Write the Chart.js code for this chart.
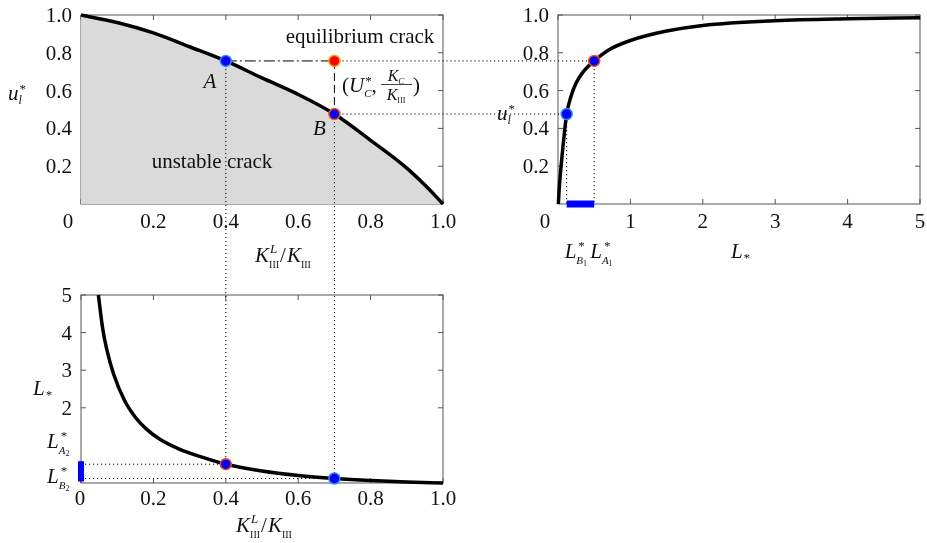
<!DOCTYPE html>
<html>
<head>
<meta charset="utf-8">
<script src="https://cdn.jsdelivr.net/npm/chart.js@4.4.1/dist/chart.umd.min.js"></script>
<style>
  body { margin: 0; background: #fff; width: 927px; height: 543px; position: relative; overflow: hidden; }
  canvas { position: absolute; }
</style>
</head>
<body>
<canvas id="panel1" width="490" height="280" style="left:0;top:0;width:490px;height:280px"></canvas>
<canvas id="panel2" width="437" height="290" style="left:490px;top:0;width:437px;height:290px"></canvas>
<canvas id="panel3" width="490" height="263" style="left:0;top:280px;width:490px;height:263px"></canvas>
<script>
// panel 1: u*_l frente a K^L_III / K_III
const kRatio1 = [0, 0.1, 0.2, 0.3, 0.4, 0.5, 0.6, 0.7, 0.8, 0.9, 0.95, 1.0];
const uStar1 = [1.0, 0.96, 0.905, 0.832, 0.757, 0.667, 0.58, 0.476, 0.337, 0.19, 0.1, 0];

// panel 2: u*_l frente a L_*
const lStar2 = [0.005, 0.02, 0.04, 0.07, 0.12, 0.18, 0.25, 0.35, 0.5, 0.7, 1.0, 1.5, 2.0, 3.0, 4.0, 5.0];
const uStar2 = [0, 0.1, 0.19, 0.31, 0.476, 0.57, 0.64, 0.7, 0.757, 0.815, 0.865, 0.915, 0.945, 0.97, 0.98, 0.985];

// panel 3: L_* frente a K^L_III / K_III
const kRatio3 = [0.048, 0.06, 0.07, 0.09, 0.12, 0.15, 0.18, 0.22, 0.27, 0.33, 0.4, 0.5, 0.6, 0.7, 0.8, 0.9, 1.0];
const lStar3 = [5.0, 4.1, 3.6, 2.9, 2.2, 1.75, 1.44, 1.15, 0.91, 0.7, 0.5, 0.32, 0.2, 0.12, 0.065, 0.028, 0];

// puntos A y B
const kA = 0.4, kB = 0.7;
const uA = 0.757, uB = 0.476;
const lA = 0.5, lB = 0.12;

// marcas de los ejes
const ticksX1 = [0, 0.2, 0.4, 0.6, 0.8, 1.0];
const etiquetasX1 = ["0", "0.2", "0.4", "0.6", "0.8", "1.0"];
const ticksY1 = [0.2, 0.4, 0.6, 0.8, 1.0];
const etiquetasY1 = ["0.2", "0.4", "0.6", "0.8", "1.0"];
const ticksX2 = [0, 1, 2, 3, 4, 5];
const etiquetasX2 = ["0", "1", "2", "3", "4", "5"];
const ticksY3 = [2, 3, 4, 5];
const etiquetasY3 = ["2", "3", "4", "5"];

const FUENTE = '"Liberation Serif", "Times New Roman", serif';
const AZUL = "#0000ff";
const T = 21; // tamaño base del texto

function puntos(xs, ys) {
  return xs.map((x, i) => ({ x: x, y: ys[i] }));
}

// texto con subindices / superindices; baseline en y
function texto(ctx, partes, x, y, alinear) {
  const pos = [];
  let cursor = 0, inicio = 0;
  for (const p of partes) {
    ctx.font = (p.it ? "italic " : "") + p.s + "px " + FUENTE;
    const w = ctx.measureText(p.t).width;
    if (p.apilar) {
      pos.push(inicio);
      cursor = Math.max(cursor, inicio + w);
    } else {
      pos.push(cursor);
      inicio = cursor;
      cursor += w;
    }
  }
  let x0 = x;
  if (alinear === "center") x0 = x - cursor / 2;
  if (alinear === "right") x0 = x - cursor;
  ctx.save();
  ctx.fillStyle = "#111";
  ctx.textAlign = "left";
  ctx.textBaseline = "alphabetic";
  partes.forEach((p, i) => {
    ctx.font = (p.it ? "italic " : "") + p.s + "px " + FUENTE;
    ctx.fillText(p.t, x0 + pos[i] + (p.dx || 0), y + (p.dy || 0));
  });
  ctx.restore();
}

function linea(ctx, x1, y1, x2, y2, dash) {
  ctx.save();
  ctx.setLineDash(dash);
  ctx.lineWidth = 1;
  ctx.strokeStyle = "#000";
  ctx.beginPath();
  ctx.moveTo(x1, y1);
  ctx.lineTo(x2, y2);
  ctx.stroke();
  ctx.restore();
}

const PUNTEADO = [1.2, 2.8];

function marco(chart, tx, ty) {
  const { ctx, chartArea: a, scales } = chart;
  ctx.save();
  ctx.strokeStyle = "#555";
  ctx.lineWidth = 1;
  ctx.strokeRect(a.left, a.top, a.right - a.left, a.bottom - a.top);
  ctx.beginPath();
  tx.forEach((v) => {
    const px = scales.x.getPixelForValue(v);
    ctx.moveTo(px, a.bottom); ctx.lineTo(px, a.bottom - 5);
    ctx.moveTo(px, a.top); ctx.lineTo(px, a.top + 5);
  });
  ty.forEach((v) => {
    const py = scales.y.getPixelForValue(v);
    ctx.moveTo(a.left, py); ctx.lineTo(a.left + 5, py);
    ctx.moveTo(a.right, py); ctx.lineTo(a.right - 5, py);
  });
  ctx.stroke();
  ctx.restore();
}

function etiquetas(chart, tx, lx, ty, ly, bajoX, corrimientoCero) {
  const { ctx, chartArea: a, scales } = chart;
  tx.forEach((v, i) => {
    const px = scales.x.getPixelForValue(v) - (v === 0 ? corrimientoCero : 0);
    texto(ctx, [{ t: lx[i], s: T }], px, a.bottom + bajoX, "center");
  });
  ty.forEach((v, i) => {
    const py = scales.y.getPixelForValue(v);
    texto(ctx, [{ t: ly[i], s: T }], a.left - 9, py + 7, "right");
  });
}

function tituloK(ctx, x, y) {
  texto(ctx, [
    { t: "K", s: T, it: true },
    { t: "L", s: 13, it: true, dy: -9, dx: 1 },
    { t: "III", s: 10, dy: 6, apilar: true },
    { t: "/", s: T, dx: 1 },
    { t: "K", s: T, it: true, dx: 2 },
    { t: "III", s: 10, dy: 6, dx: 2 }
  ], x, y, "center");
}

function opciones(padding, xMin, xMax, yMin, yMax) {
  return {
    responsive: false,
    animation: false,
    layout: { padding: padding },
    scales: {
      x: { type: "linear", min: xMin, max: xMax, display: false },
      y: { type: "linear", min: yMin, max: yMax, display: false }
    },
    plugins: { legend: { display: false }, tooltip: { enabled: false } }
  };
}

// ---------- panel 1 ----------
new Chart(document.getElementById("panel1"), {
  type: "scatter",
  data: {
    datasets: [
      {
        data: [{ x: kA, y: uA }, { x: kB, y: uA }, { x: kB, y: uB }],
        pointRadius: 5.5,
        pointBackgroundColor: [AZUL, "#ff0000", AZUL],
        pointBorderColor: ["#2a8cff", "#ff9a00", "#ff4a00"],
        pointBorderWidth: 1.5,
        clip: false
      },
      {
        data: puntos(kRatio1, uStar1),
        showLine: true,
        borderColor: "#000",
        borderWidth: 3.5,
        pointRadius: 0,
        cubicInterpolationMode: "monotone",
        fill: "origin",
        backgroundColor: "#dadada",
        clip: false
      }
    ]
  },
  options: opciones({ left: 81, top: 15, right: 47, bottom: 76 }, 0, 1, 0, 1),
  plugins: [{
    id: "panel1",
    beforeDatasetsDraw(chart) {
      marco(chart, ticksX1, ticksY1);
    },
    afterDatasetDraw(chart, args) {
      if (args.index !== 1) return;
      const { ctx, scales: { x, y } } = chart;
      const xa = x.getPixelForValue(kA), xb = x.getPixelForValue(kB);
      const ya = y.getPixelForValue(uA), yb = y.getPixelForValue(uB);
      linea(ctx, xa, ya, xb, ya, [11, 3, 2, 3]);
      linea(ctx, xb, ya, xb, yb, [8, 4]);
      linea(ctx, xb, ya, chart.width, ya, PUNTEADO);
      linea(ctx, xb, yb, chart.width, yb, PUNTEADO);
      linea(ctx, xa, ya, xa, chart.height, PUNTEADO);
      linea(ctx, xb, yb, xb, chart.height, PUNTEADO);
    },
    afterDraw(chart) {
      const { ctx, scales: { x } } = chart;
      etiquetas(chart, ticksX1, etiquetasX1, ticksY1, etiquetasY1, 24, 13);
      texto(ctx, [{ t: "equilibrium crack", s: T }], 360, 43, "center");
      texto(ctx, [{ t: "unstable crack", s: T }], 212, 168, "center");
      texto(ctx, [{ t: "A", s: T, it: true }], x.getPixelForValue(kA) - 16, 88, "center");
      texto(ctx, [{ t: "B", s: T, it: true }], x.getPixelForValue(kB) - 15, 135, "center");
      texto(ctx, [
        { t: "u", s: T, it: true },
        { t: "*", s: 13, dy: -7, dx: 1 },
        { t: "l", s: 12, it: true, dy: 4, apilar: true }
      ], 8, 100, "left");
      tituloK(ctx, 282, 262);
      // (U*_C, K_C / K_III)
      texto(ctx, [
        { t: "(", s: T },
        { t: "U", s: T, it: true },
        { t: "*", s: 13, dy: -7, dx: 1 },
        { t: "C", s: 11, it: true, dy: 5, apilar: true },
        { t: ",", s: T }
      ], 342, 92, "left");
      texto(ctx, [{ t: "K", s: 16, it: true }, { t: "C", s: 9, it: true, dy: 3 }], 396, 81, "center");
      texto(ctx, [{ t: "K", s: 16, it: true }, { t: "III", s: 8, dy: 3 }], 396, 100, "center");
      ctx.save();
      ctx.strokeStyle = "#111";
      ctx.lineWidth = 0.8;
      ctx.beginPath();
      ctx.moveTo(381, 84.5);
      ctx.lineTo(412, 84.5);
      ctx.stroke();
      ctx.restore();
      texto(ctx, [{ t: ")", s: T }], 413, 92, "left");
    }
  }]
});

// ---------- panel 2 ----------
new Chart(document.getElementById("panel2"), {
  type: "scatter",
  data: {
    datasets: [
      {
        data: [{ x: lA, y: uA }, { x: lB, y: uB }],
        pointRadius: 5.5,
        pointBackgroundColor: [AZUL, AZUL],
        pointBorderColor: ["#ff4a00", "#2a8cff"],
        pointBorderWidth: 1.5,
        clip: false
      },
      {
        data: [{ x: lB, y: 0 }, { x: lA, y: 0 }],
        showLine: true,
        borderColor: AZUL,
        borderWidth: 7,
        borderCapStyle: "butt",
        pointRadius: 0,
        clip: false
      },
      {
        data: puntos(lStar2, uStar2),
        showLine: true,
        borderColor: "#000",
        borderWidth: 3.5,
        pointRadius: 0,
        cubicInterpolationMode: "monotone",
        clip: false
      }
    ]
  },
  options: opciones({ left: 68, top: 15, right: 7, bottom: 86 }, 0, 5, 0, 1),
  plugins: [{
    id: "panel2",
    beforeDatasetsDraw(chart) {
      marco(chart, ticksX2, ticksY1);
      const { ctx, scales: { x, y } } = chart;
      const xa = x.getPixelForValue(lA), xb = x.getPixelForValue(lB);
      const ya = y.getPixelForValue(uA), yb = y.getPixelForValue(uB);
      const y0 = y.getPixelForValue(0);
      linea(ctx, 0, ya, xa, ya, PUNTEADO);
      linea(ctx, 0, yb, xb, yb, PUNTEADO);
      linea(ctx, xa, ya, xa, y0, PUNTEADO);
      linea(ctx, xb, yb, xb, y0, PUNTEADO);
    },
    afterDraw(chart) {
      const { ctx, scales: { x } } = chart;
      etiquetas(chart, ticksX2, etiquetasX2, ticksY1, etiquetasY1, 24, 13);
      texto(ctx, [
        { t: "u", s: T, it: true },
        { t: "*", s: 13, dy: -7, dx: 1 },
        { t: "l", s: 12, it: true, dy: 4, apilar: true }
      ], 7, 120, "left");
      texto(ctx, [{ t: "L", s: T, it: true }, { t: "*", s: 13, dy: 4, dx: 1 }], 250, 258, "center");
      const xb = x.getPixelForValue(lB), xa = x.getPixelForValue(lA);
      texto(ctx, [
        { t: "L", s: T, it: true },
        { t: "*", s: 13, dy: -8, dx: 2 },
        { t: "B", s: 11, it: true, dy: 6, apilar: true },
        { t: "1", s: 8, dy: 8 }
      ], xb - 2, 258, "left");
      texto(ctx, [
        { t: "L", s: T, it: true },
        { t: "*", s: 13, dy: -8, dx: 2 },
        { t: "A", s: 11, it: true, dy: 6, apilar: true },
        { t: "1", s: 8, dy: 8 }
      ], xa - 4, 258, "left");
    }
  }]
});

// ---------- panel 3 ----------
new Chart(document.getElementById("panel3"), {
  type: "scatter",
  data: {
    datasets: [
      {
        data: [{ x: kA, y: lA }, { x: kB, y: lB }],
        pointRadius: 5.5,
        pointBackgroundColor: [AZUL, AZUL],
        pointBorderColor: ["#ff4a00", "#2a8cff"],
        pointBorderWidth: 1.5,
        clip: false
      },
      {
        data: [{ x: 0, y: lB }, { x: 0, y: lA }],
        showLine: true,
        borderColor: AZUL,
        borderWidth: 6,
        borderCapStyle: "square",
        pointRadius: 0,
        clip: false
      },
      {
        data: puntos(kRatio3, lStar3),
        showLine: true,
        borderColor: "#000",
        borderWidth: 3.5,
        pointRadius: 0,
        cubicInterpolationMode: "monotone",
        clip: false
      }
    ]
  },
  options: opciones({ left: 81, top: 15, right: 47, bottom: 60 }, 0, 1, 0, 5),
  plugins: [{
    id: "panel3",
    beforeDatasetsDraw(chart) {
      marco(chart, ticksX1, ticksY3);
      const { ctx, scales: { x, y } } = chart;
      const xa = x.getPixelForValue(kA), xb = x.getPixelForValue(kB);
      const ya = y.getPixelForValue(lA), yb = y.getPixelForValue(lB);
      const x0 = x.getPixelForValue(0);
      linea(ctx, xa, 0, xa, ya, PUNTEADO);
      linea(ctx, xb, 0, xb, yb, PUNTEADO);
      linea(ctx, x0, ya, xa, ya, PUNTEADO);
      linea(ctx, x0, yb, xb, yb, PUNTEADO);
    },
    afterDraw(chart) {
      const { ctx } = chart;
      etiquetas(chart, ticksX1, etiquetasX1, ticksY3, etiquetasY3, 22, 1);
      texto(ctx, [{ t: "L", s: T, it: true }, { t: "*", s: 13, dy: 4, dx: 1 }], 33, 115, "left");
      texto(ctx, [
        { t: "L", s: T, it: true },
        { t: "*", s: 13, dy: -8, dx: 2 },
        { t: "A", s: 11, it: true, dy: 6, apilar: true },
        { t: "2", s: 8, dy: 8 }
      ], 47, 168, "left");
      texto(ctx, [
        { t: "L", s: T, it: true },
        { t: "*", s: 13, dy: -8, dx: 2 },
        { t: "B", s: 11, it: true, dy: 6, apilar: true },
        { t: "2", s: 8, dy: 8 }
      ], 47, 203, "left");
      tituloK(ctx, 263, 252);
    }
  }]
});
</script>
</body>
</html>
